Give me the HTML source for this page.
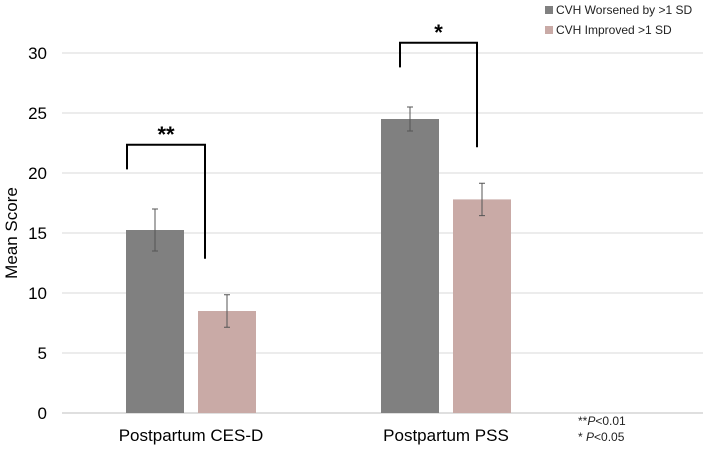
<!DOCTYPE html>
<html><head><meta charset="utf-8"><style>
body{margin:0;background:#fff;width:709px;height:448px;overflow:hidden;font-family:"Liberation Sans",Arial,sans-serif}
</style></head><body>
<svg id="chart" width="709" height="448" xmlns="http://www.w3.org/2000/svg" font-family="Liberation Sans, Arial, sans-serif">
<g id="grid"></g><g id="bars"></g><g id="ann"></g>
<text transform="translate(17,233) rotate(-90)" text-anchor="middle" font-size="17" fill="#000">Mean Score</text>
<g>
<rect x="545" y="6" width="8" height="8" fill="#808080"/>
<text x="556" y="14" font-size="12" fill="#222">CVH Worsened by &gt;1 SD</text>
<rect x="545" y="26" width="8" height="8" fill="#c9aaa6"/>
<text x="556" y="34" font-size="12" fill="#222">CVH Improved &gt;1 SD</text>
</g>
<text x="578" y="425" font-size="12" fill="#222">**<tspan font-style="italic">P</tspan>&lt;0.01</text>
<text x="578" y="441" font-size="12" fill="#222">*  <tspan font-style="italic">P</tspan>&lt;0.05</text>
</svg>
<script>
const categories=["Postpartum CES-D","Postpartum PSS"];
const worsened=[15.25,24.5];
const improved=[8.5,17.8];
const worsenedErr=[1.75,1.0];
const improvedErr=[1.35,1.35];
const yTicks=[0,5,10,15,20,25,30];
const sig=["**","*"];
const NS="http://www.w3.org/2000/svg";
const y=v=>413-v*12;
const x0=62,x1=703;
const xc=i=>191+255*i;
function el(t,a,p){const e=document.createElementNS(NS,t);for(const k in a)e.setAttribute(k,a[k]);document.getElementById(p).appendChild(e);return e;}
yTicks.forEach(t=>{
 const l=el('line',{x1:x0,x2:x1,y1:y(t),y2:y(t),stroke:t===0?'#bfbfbf':'#d9d9d9','stroke-width':1},'grid');
 
 
 const tx=el('text',{x:47,y:y(t)+6,'text-anchor':'end','font-size':17,fill:'#000'},'grid');tx.textContent=t;
 
 
});
const lOff=[1,19],rOff=[7,24];
categories.forEach((c,i)=>{
 const cx=xc(i);
 const bw=58;
 const xa=cx-bw-7,xb=cx+7;
 [[worsened,worsenedErr,'#808080',xa,'worsened'],[improved,improvedErr,'#c9aaa6',xb,'improved']].forEach(([vals,errs,col,bx,nm])=>{
  const r=el('rect',{x:bx,y:y(vals[i]),width:bw,height:y(0)-y(vals[i]),fill:col},'bars');
  
  
  const mx=bx+bw/2,t=y(vals[i]+errs[i]),b=y(vals[i]-errs[i]);
  const e=el('path',{d:`M${mx},${t}V${b}M${mx-3},${t}H${mx+3}M${mx-3},${b}H${mx+3}`,stroke:'#555','stroke-width':1,fill:'none'},'bars');
  
  
 });
 const lx=xa+lOff[i],rx=xb+rOff[i];
 const top=y(Math.max(worsened[i]+worsenedErr[i],improved[i]+improvedErr[i])+5.35);
 const leftEnd=y(worsened[i]+worsenedErr[i]+3.3),rightEnd=y(improved[i]+improvedErr[i]+3.0);
 const br=el('path',{d:`M${lx},${leftEnd}V${top}H${rx}V${rightEnd}`,stroke:'#000','stroke-width':2,fill:'none'},'ann');
 
 
 const s=el('text',{x:(lx+rx)/2,y:top-3,'text-anchor':'middle','font-size':22,'font-weight':'bold',fill:'#000'},'ann');s.textContent=sig[i];
 
 
 const lab=el('text',{x:cx,y:441,'text-anchor':'middle','font-size':17,fill:'#000'},'ann');lab.textContent=c;
 
 
});
</script>
</body></html>
